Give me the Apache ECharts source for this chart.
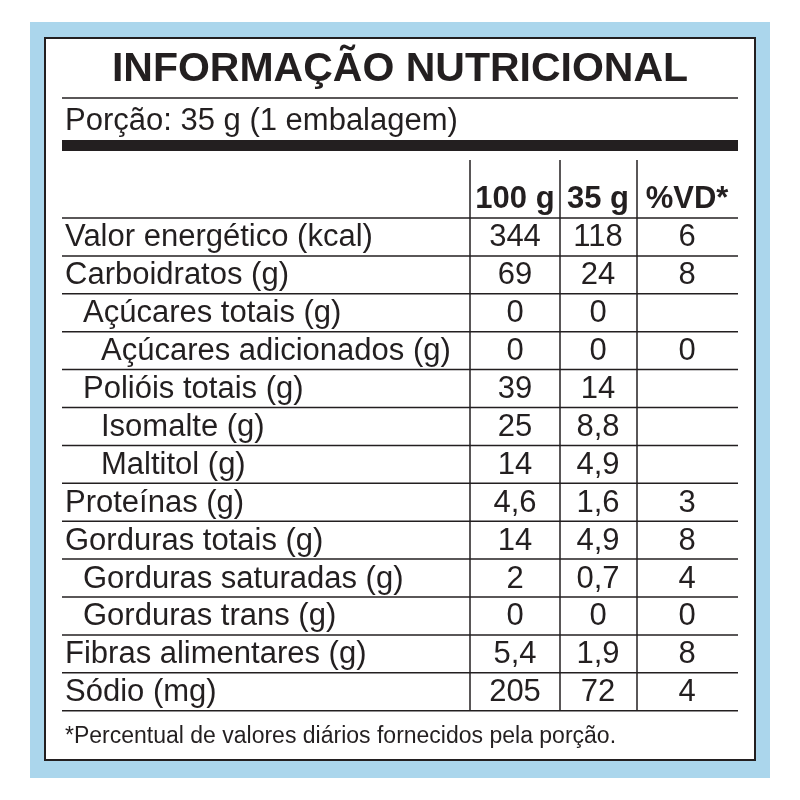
<!DOCTYPE html>
<html>
<head>
<meta charset="utf-8">
<script src="https://cdn.jsdelivr.net/npm/echarts@6/dist/echarts.min.js"></script>
<style>html,body{margin:0;padding:0;background:#fff}</style>
</head>
<body>
<div id="chart" style="width:800px;height:800px"></div>
<script>
var nutrients = ['Valor energético (kcal)', 'Carboidratos (g)', 'Açúcares totais (g)', 'Açúcares adicionados (g)',
    'Polióis totais (g)', 'Isomalte (g)', 'Maltitol (g)', 'Proteínas (g)', 'Gorduras totais (g)',
    'Gorduras saturadas (g)', 'Gorduras trans (g)', 'Fibras alimentares (g)', 'Sódio (mg)'];
var indent = [0, 0, 1, 2, 1, 2, 2, 0, 0, 1, 1, 0, 0];
var per100g = ['344', '69', '0', '0', '39', '25', '14', '4,6', '14', '2', '0', '5,4', '205'];
var per35g = ['118', '24', '0', '0', '14', '8,8', '4,9', '1,6', '4,9', '0,7', '0', '1,9', '72'];
var vd = ['6', '8', '', '0', '', '', '', '3', '8', '4', '0', '8', '4'];
var headers = ['100 g', '35 g', '%VD*'];

var font = 'Liberation Sans, Arial, sans-serif';
var colX = [515, 598, 687];
var rowTop = 218, rowH = 37.9;
var els = [];

function text(x, y, s, size, opts) {
    opts = opts || {};
    els.push({
        type: 'text', x: x, y: y,
        style: {
            text: s, fontSize: size, fontFamily: font, fill: '#231f20',
            fontWeight: opts.bold ? 'bold' : 'normal',
            align: opts.align || 'left', verticalAlign: 'middle'
        }
    });
}
function line(x1, y1, x2, y2, w) {
    els.push({ type: 'line', shape: { x1: x1, y1: y1, x2: x2, y2: y2 }, style: { stroke: '#231f20', lineWidth: w } });
}

// background and frame
els.push({ type: 'rect', shape: { x: 30, y: 22, width: 740, height: 756 }, style: { fill: '#abd6ec' } });
els.push({ type: 'rect', shape: { x: 45, y: 38, width: 710, height: 722 }, style: { fill: '#fff', stroke: '#231f20', lineWidth: 2 } });

text(400, 70, 'INFORMAÇÃO NUTRICIONAL', 41, { bold: true, align: 'center' });
line(62, 98, 738, 98, 1.5);
text(65, 121, 'Porção: 35 g (1 embalagem)', 31);
els.push({ type: 'rect', shape: { x: 62, y: 140, width: 676, height: 11 }, style: { fill: '#231f20' } });

// column separators
[470, 560, 637].forEach(function (x) { line(x, 160, x, 710, 1.5); });
headers.forEach(function (h, i) { text(colX[i], 199, h, 31, { bold: true, align: 'center' }); });

line(62, rowTop, 738, rowTop, 1.5);
nutrients.forEach(function (n, i) {
    var yc = rowTop + rowH * (i + 0.5) + 1;
    text(65 + indent[i] * 18, yc, n, 31);
    text(colX[0], yc, per100g[i], 31, { align: 'center' });
    text(colX[1], yc, per35g[i], 31, { align: 'center' });
    text(colX[2], yc, vd[i], 31, { align: 'center' });
    line(62, rowTop + rowH * (i + 1), 738, rowTop + rowH * (i + 1), 1.5);
});

text(65, 737, '*Percentual de valores diários fornecidos pela porção.', 23);

var chart = echarts.init(document.getElementById('chart'));
chart.setOption({ animation: false, graphic: { elements: els } });
</script>
</body>
</html>
